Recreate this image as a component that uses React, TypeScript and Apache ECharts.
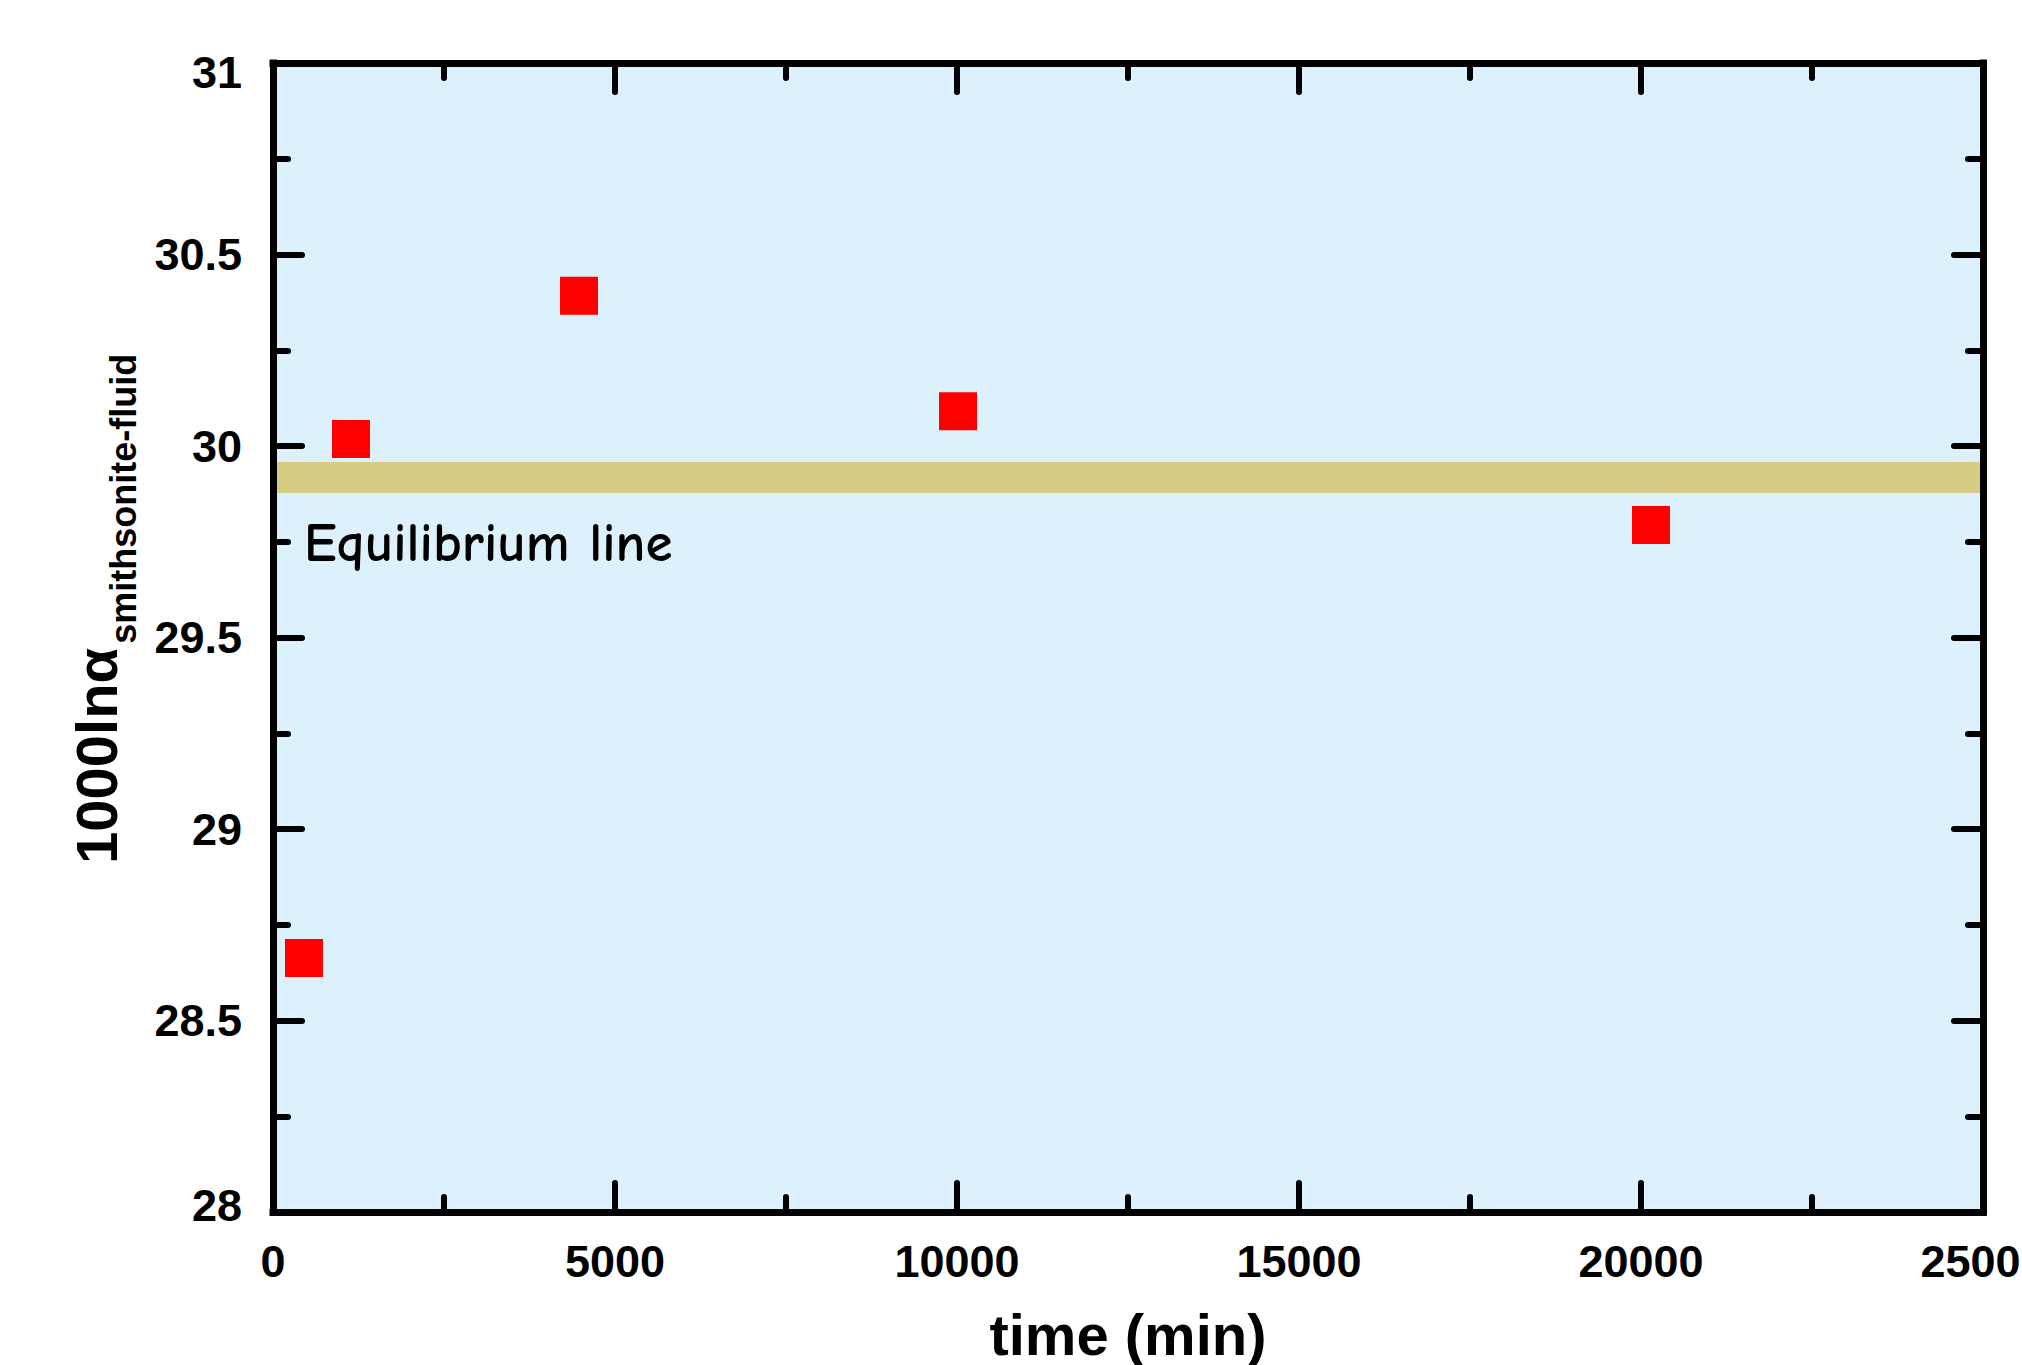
import React, { useEffect, useRef } from 'react';
import * as echarts from 'echarts';

// ---- data ----
const timeMin = [453, 1140, 4474, 10015, 20146];
const lnAlpha = [28.663, 30.018, 30.392, 30.091, 29.794];
const equilibriumValue = 29.918;

const xMin = 0;
const xMax = 25000;
const xInterval = 5000;
const yMin = 28;
const yMax = 31;
const yInterval = 0.5;

const xTitle = 'time (min)';
const yTitleMain = '1000lnα';
const yTitleSub = 'smithsonite-fluid';
const eqLabel = 'Equilibrium line';

const FONT = '"Liberation Sans", Arial, Helvetica, sans-serif';
const W = 2022;
const H = 1365;

export default function App() {
  const ref = useRef<HTMLDivElement>(null);

  useEffect(() => {
    document.documentElement.style.margin = '0';
    document.documentElement.style.overflow = 'hidden';
    document.body.style.margin = '0';
    document.body.style.overflow = 'hidden';
    const el = ref.current!;
    const chart = echarts.init(el, null, { renderer: 'svg', width: W, height: H });

    const ctx = document.createElement('canvas').getContext('2d')!;
    ctx.font = `bold 58px ${FONT}`;
    const mainW = ctx.measureText(yTitleMain).width;

    const tickStyle = { color: '#000', width: 6, cap: 'round' };
    const axisLineStyle = { color: '#000', width: 7, cap: 'square' };

    const labelStyle = {
      fontSize: 45,
      fontWeight: 'bold',
      fontFamily: FONT,
      color: '#000',
    };

    const xCommon = {
      type: 'value',
      min: xMin,
      max: xMax,
      interval: xInterval,
      gridIndex: 0,
      z: 10,
      axisLine: { show: true, onZero: false, lineStyle: axisLineStyle },
      axisTick: { show: true, inside: true, length: 29, lineStyle: tickStyle },
      minorTick: { show: true, splitNumber: 2, length: 15, lineStyle: tickStyle },
      splitLine: { show: false },
      minorSplitLine: { show: false },
    };
    const yCommon = {
      type: 'value',
      min: yMin,
      max: yMax,
      interval: yInterval,
      gridIndex: 0,
      z: 10,
      axisLine: { show: true, onZero: false, lineStyle: axisLineStyle },
      axisTick: { show: true, inside: true, length: 29, lineStyle: tickStyle },
      minorTick: { show: true, splitNumber: 2, length: 15, lineStyle: tickStyle },
      splitLine: { show: false },
      minorSplitLine: { show: false },
    };

    const option = {
      animation: false,
      backgroundColor: '#ffffff',
      grid: {
        left: 273,
        right: 39,
        top: 63,
        bottom: 153,
        show: true,
        backgroundColor: '#dcf1fc',
        borderWidth: 0,
        containLabel: false,
        outerBoundsMode: 'none',
      },
      xAxis: [
        {
          ...xCommon,
          position: 'bottom',
          axisLabel: {
            ...labelStyle,
            margin: 27,
            formatter: (v: number) => String(v),
          },
          name: xTitle,
          nameLocation: 'middle',
          nameGap: 93,
          nameTextStyle: {
            fontSize: 58,
            fontWeight: 'bold',
            fontFamily: FONT,
            color: '#000',
          },
        },
        {
          ...xCommon,
          position: 'top',
          axisLabel: { show: false },
        },
      ],
      yAxis: [
        {
          ...yCommon,
          position: 'left',
          axisLabel: {
            ...labelStyle,
            margin: 31,
            formatter: (v: number) => {
              if (v === yMax) return `{top|${v}}`;
              if (v === yMin) return `{bot|${v}}`;
              return String(v);
            },
            rich: {
              top: { ...labelStyle, padding: [18, 0, 0, 0] },
              bot: { ...labelStyle, padding: [0, 0, 14, 0] },
            },
          },
        },
        {
          ...yCommon,
          position: 'right',
          axisLabel: { show: false },
        },
      ],
      series: [
        {
          type: 'line',
          xAxisIndex: 0,
          yAxisIndex: 0,
          z: 2,
          silent: true,
          showSymbol: false,
          symbol: 'none',
          lineStyle: {
            color: '#d7cc84',
            width: 31,
            cap: 'butt',
          },
          data: [
            [xMin, equilibriumValue],
            [xMax, equilibriumValue],
          ],
        },
        {
          type: 'scatter',
          xAxisIndex: 0,
          yAxisIndex: 0,
          z: 5,
          symbol: 'rect',
          symbolSize: 38,
          itemStyle: { color: '#ff0000', opacity: 1 },
          data: timeMin.map((t, i) => [t, lnAlpha[i]]),
        },
      ],
      graphic: [
        {
          type: 'text',
          x: 125,
          y: 864,
          rotation: Math.PI / 2,
          z: 20,
          style: {
            text: yTitleMain,
            fontSize: 58,
            fontWeight: 'bold',
            fontFamily: FONT,
            fill: '#000',
            align: 'left',
            verticalAlign: 'bottom',
          },
        },
        {
          type: 'text',
          x: 141,
          y: 864 - mainW - 4,
          rotation: Math.PI / 2,
          z: 20,
          style: {
            text: yTitleSub,
            fontSize: 36,
            fontWeight: 'bold',
            fontFamily: FONT,
            fill: '#000',
            align: 'left',
            verticalAlign: 'bottom',
          },
        },
        {
          type: 'text',
          x: 304,
          y: 543,
          z: 20,
          style: {
            text: eqLabel,
            fontSize: 55,
            fontWeight: 'bold',
            fontFamily: '"Comic Sans MS", "Comic Neue", "Noto Sans", sans-serif',
            fill: '#000',
            align: 'left',
            verticalAlign: 'middle',
          },
        },
      ],
    };

    chart.setOption(option as any);
    return () => {
      chart.dispose();
    };
  }, []);

  return (
    <div
      ref={ref}
      style={{ position: 'absolute', left: 0, top: 0, width: W, height: H }}
    />
  );
}
